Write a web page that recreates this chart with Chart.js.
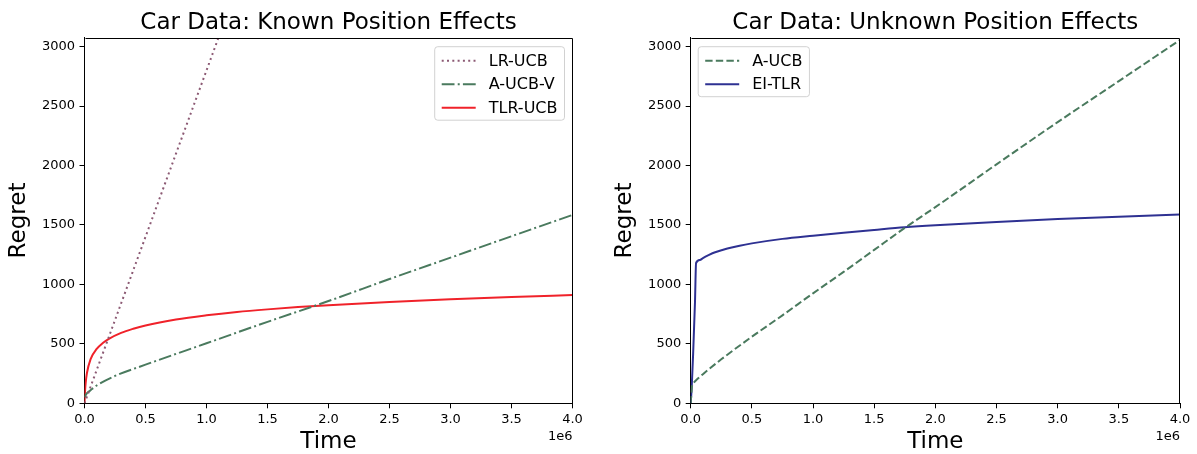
<!DOCTYPE html>
<html>
<head>
<meta charset="utf-8">
<script src="https://cdn.jsdelivr.net/npm/chart.js@4"></script>
<style>
  html, body { margin: 0; padding: 0; background: #ffffff; }
  body { width: 1197px; height: 454px; position: relative; overflow: hidden; }
  canvas { position: absolute; top: 0; }
</style>
</head>
<body>
<canvas id="left" width="600" height="454" style="left:0px;width:600px;height:454px"></canvas>
<canvas id="right" width="597" height="454" style="left:600px;width:597px;height:454px"></canvas>
<script>
// ---------- Data (time in raw steps, regret) ----------
const titleLeft = 'Car Data: Known Position Effects';
const titleRight = 'Car Data: Unknown Position Effects';
const xAxisLabel = 'Time';
const yAxisLabel = 'Regret';
const xOffsetLabel = '1e6';

const xTicks = [0, 500000, 1000000, 1500000, 2000000, 2500000, 3000000, 3500000, 4000000];
const xTickLabels = ['0.0', '0.5', '1.0', '1.5', '2.0', '2.5', '3.0', '3.5', '4.0'];
const yTicks = [0, 500, 1000, 1500, 2000, 2500, 3000];
const yTickLabels = ['0', '500', '1000', '1500', '2000', '2500', '3000'];

// Left panel: Known position effects
const timeLRUCB   = [0, 250000, 500000, 750000, 1000000, 1100000];
const regretLRUCB = [0, 700, 1400, 2100, 2800, 3080];

const timeAUCBV   = [0, 20000, 50000, 100000, 250000, 500000, 1000000, 1500000, 2000000, 2500000, 3000000, 3500000, 4000000];
const regretAUCBV = [50, 85, 110, 150, 230, 325, 505, 685, 860, 1045, 1225, 1405, 1584];

const timeTLRUCB   = [0, 5000, 10000, 20000, 50000, 100000, 150000, 200000, 300000, 400000, 500000, 750000, 1000000, 1250000, 1500000, 1750000, 2000000, 2500000, 3000000, 3500000, 4000000];
const regretTLRUCB = [0, 110, 175, 255, 372, 457, 507, 542, 592, 627, 655, 705, 740, 768, 790, 809, 825, 853, 875, 894, 911];

// Right panel: Unknown position effects
const timeAUCB   = [0, 10000, 20000, 50000, 100000, 250000, 500000, 750000, 1000000, 1250000, 1500000, 1750000, 2000000, 2500000, 3000000, 3500000, 4000000];
const regretAUCB = [0, 140, 165, 200, 245, 370, 560, 740, 925, 1105, 1290, 1475, 1650, 2010, 2365, 2710, 3056];

const timeEITLR   = [0, 8000, 20000, 35000, 44000, 75000, 100000, 150000, 200000, 300000, 400000, 500000, 750000, 1000000, 1250000, 1500000, 1750000, 2000000, 2500000, 3000000, 3500000, 4000000];
const regretEITLR = [0, 130, 420, 850, 1180, 1205, 1222, 1248, 1270, 1302, 1326, 1345, 1383, 1410, 1435, 1458, 1480, 1497, 1525, 1550, 1570, 1588];

// ---------- Helpers ----------
const FONT = 'DejaVu Sans';
function pts(xs, ys) { return xs.map((x, i) => ({ x: x, y: ys[i] })); }

function mkDataset(label, xs, ys, color, dash, width) {
  return {
    label: label,
    data: pts(xs, ys),
    borderColor: color,
    backgroundColor: color,
    borderWidth: width,
    borderDash: dash,
    borderCapStyle: 'butt',
    pointRadius: 0,
    pointHoverRadius: 0,
    fill: false,
    cubicInterpolationMode: 'monotone'
  };
}

const framePlugin = {
  id: 'frameAndText',
  afterDraw(chart, args, opts) {
    const ctx = chart.ctx;
    const a = chart.chartArea;
    ctx.save();
    // frame (top / right spines)
    ctx.strokeStyle = '#000';
    ctx.lineWidth = 1;
    ctx.beginPath();
    ctx.moveTo(Math.round(a.left) + 0.5, Math.round(a.top) + 0.5);
    ctx.lineTo(Math.round(a.right) - 0.5, Math.round(a.top) + 0.5);
    ctx.lineTo(Math.round(a.right) - 0.5, Math.round(a.bottom));
    ctx.stroke();
    // title
    ctx.fillStyle = '#000';
    ctx.font = '23px "' + FONT + '"';
    ctx.textAlign = 'center';
    ctx.textBaseline = 'alphabetic';
    ctx.fillText(opts.title, (a.left + a.right) / 2, 28.5);
    // offset text
    ctx.font = '13px "' + FONT + '"';
    ctx.textAlign = 'right';
    ctx.textBaseline = 'middle';
    ctx.fillText(xOffsetLabel, a.right, 437);
    // legend
    const lg = opts.legend;
    ctx.font = '16px "' + FONT + '"';
    const items = chart.data.datasets;
    let tw = 0;
    items.forEach(d => { tw = Math.max(tw, ctx.measureText(d.label).width); });
    const padL = 7, sampleLen = 34, gap = 13, padR = 7, rowH = 23.5, padT = 14;
    const w = padL + sampleLen + gap + tw + padR;
    const h = padT * 2 + rowH * (items.length - 1) - 1.5;
    const bx = lg.anchor === 'right' ? a.right - lg.inset - w : a.left + lg.inset;
    const by = a.top + 9;
    ctx.beginPath();
    const r = 3;
    ctx.moveTo(bx + r, by);
    ctx.arcTo(bx + w, by, bx + w, by + h, r);
    ctx.arcTo(bx + w, by + h, bx, by + h, r);
    ctx.arcTo(bx, by + h, bx, by, r);
    ctx.arcTo(bx, by, bx + w, by, r);
    ctx.closePath();
    ctx.fillStyle = 'rgba(255,255,255,0.8)';
    ctx.fill();
    ctx.strokeStyle = 'rgba(204,204,204,0.9)';
    ctx.lineWidth = 1;
    ctx.stroke();
    items.forEach((d, i) => {
      const y = by + padT + i * rowH;
      ctx.save();
      ctx.strokeStyle = d.borderColor;
      ctx.lineWidth = d.borderWidth;
      ctx.setLineDash(d.borderDash || []);
      ctx.beginPath();
      ctx.moveTo(bx + padL, y);
      ctx.lineTo(bx + padL + sampleLen, y);
      ctx.stroke();
      ctx.restore();
      ctx.fillStyle = '#000';
      ctx.textAlign = 'left';
      ctx.textBaseline = 'middle';
      ctx.fillText(d.label, bx + padL + sampleLen + gap, y + 1);
    });
    ctx.restore();
  }
};

function makeChart(id, datasets, cfg) {
  return new Chart(document.getElementById(id), {
    type: 'line',
    data: { datasets: datasets },
    plugins: [framePlugin],
    options: {
      responsive: false,
      animation: false,
      devicePixelRatio: 1,
      events: [],
      layout: { padding: { top: 37.7, right: cfg.padRight, bottom: 0, left: 0 } },
      plugins: {
        legend: { display: false },
        title: { display: false },
        tooltip: { enabled: false },
        frameAndText: { title: cfg.title, legend: cfg.legend }
      },
      scales: {
        x: {
          type: 'linear',
          min: 0,
          max: 4000000,
          afterBuildTicks: s => { s.ticks = xTicks.map(v => ({ value: v })); },
          afterFit: s => { s.height = 50.7; },
          ticks: {
            autoSkip: false,
            maxRotation: 0,
            color: '#000',
            padding: 4,
            font: { family: FONT, size: 13 },
            callback: (v) => { const i = xTicks.indexOf(v); return i >= 0 ? xTickLabels[i] : ''; }
          },
          grid: { display: true, drawOnChartArea: false, drawTicks: true, tickLength: 5, tickColor: '#000', tickWidth: 1 },
          border: { display: true, color: '#000', width: 1 },
          title: { display: true, text: xAxisLabel, color: '#000', font: { family: FONT, size: 23, lineHeight: 1 }, padding: { top: 0, bottom: 0 } }
        },
        y: {
          type: 'linear',
          min: 0,
          max: 3075,
          afterBuildTicks: s => { s.ticks = yTicks.map(v => ({ value: v })); },
          afterFit: s => { s.width = cfg.yWidth; },
          ticks: {
            color: '#000',
            padding: 4.5,
            font: { family: FONT, size: 13 },
            callback: (v) => { const i = yTicks.indexOf(v); return i >= 0 ? yTickLabels[i] : ''; }
          },
          grid: { display: true, drawOnChartArea: false, drawTicks: true, tickLength: 5, tickColor: '#000', tickWidth: 1 },
          border: { display: true, color: '#000', width: 1 },
          title: { display: true, text: yAxisLabel, color: '#000', font: { family: FONT, size: 23, lineHeight: 1 }, padding: { top: cfg.yTitlePad, bottom: 0 } }
        }
      }
    }
  });
}

const cMauve = '#8c5a74';
const cGreen = '#4a7a5e';
const cRed = '#f0222a';
const cNavy = '#2e3192';

makeChart('left', [
  mkDataset('LR-UCB', timeLRUCB, regretLRUCB, cMauve, [2, 3.3], 2),
  mkDataset('A-UCB-V', timeAUCBV, regretAUCBV, cGreen, [12.8, 3.2, 2, 3.2], 2),
  mkDataset('TLR-UCB', timeTLRUCB, regretTLRUCB, cRed, [], 2)
], { title: titleLeft, padRight: 27.5, yWidth: 84.5, yTitlePad: 7.5, legend: { anchor: 'right', inset: 8 } });

makeChart('right', [
  mkDataset('A-UCB', timeAUCB, regretAUCB, cGreen, [7.4, 3.2], 2),
  mkDataset('EI-TLR', timeEITLR, regretEITLR, cNavy, [], 2)
], { title: titleRight, padRight: 17, yWidth: 90.7, yTitlePad: 14, legend: { anchor: 'left', inset: 7.5 } });
</script>
</body>
</html>
